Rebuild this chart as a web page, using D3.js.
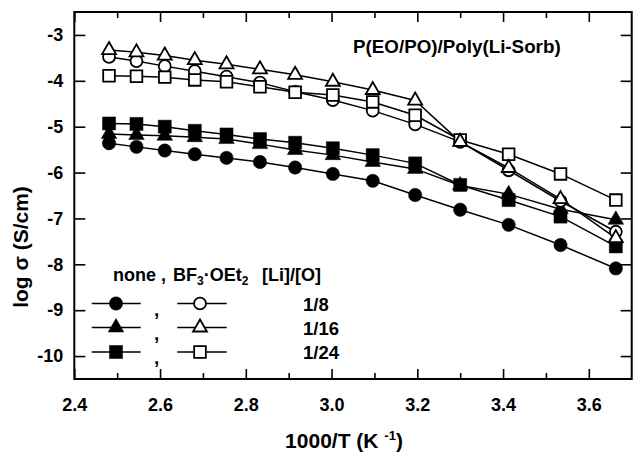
<!DOCTYPE html>
<html>
<head>
<meta charset="utf-8">
<script src="https://cdn.jsdelivr.net/npm/d3@7"></script>
<style>
  body { margin: 0; background: #fff; }
  text { font-family: "Liberation Sans", Arial, sans-serif; font-weight: bold; fill: #000; }
</style>
</head>
<body>
<div id="chart"></div>
<script>
// 1000/T values (K^-1)
var invT = [2.481, 2.545, 2.611, 2.681, 2.755, 2.833, 2.915, 3.003, 3.096, 3.195, 3.300, 3.413, 3.534, 3.663];

// log sigma, no additive
var none_8  = [-5.36, -5.44, -5.52, -5.60, -5.68, -5.77, -5.89, -6.03, -6.18, -6.49, -6.81, -7.14, -7.58, -8.09];
var none_16 = [-5.16, -5.18, -5.20, -5.23, -5.27, -5.38, -5.51, -5.62, -5.77, -5.92, -6.28, -6.47, -6.80, -7.03];
var none_24 = [-4.93, -4.94, -5.00, -5.09, -5.17, -5.27, -5.35, -5.47, -5.62, -5.80, -6.27, -6.60, -6.96, -7.61];
// log sigma, with BF3.OEt2
var bf_8  = [-3.48, -3.57, -3.68, -3.79, -3.91, -4.04, -4.24, -4.42, -4.65, -4.95, -5.33, -5.95, -6.62, -7.29];
var bf_16 = [-3.33, -3.38, -3.45, -3.55, -3.64, -3.75, -3.87, -4.02, -4.20, -4.43, -5.33, -5.90, -6.58, -7.43];
var bf_24 = [-3.89, -3.90, -3.92, -3.98, -4.02, -4.13, -4.25, -4.31, -4.46, -4.75, -5.29, -5.60, -6.03, -6.60];

var ratioLabels = ["1/8", "1/16", "1/24"];
var xMajor = [2.4, 2.6, 2.8, 3.0, 3.2, 3.4, 3.6];
var xMinor = [2.5, 2.7, 2.9, 3.1, 3.3, 3.5];
var yTicks = [-3, -4, -5, -6, -7, -8, -9, -10];

var W = 633, H = 455;
var pL = 74.3, pR = 631.7, pT = 12, pB = 379;

var svg = d3.select("#chart").append("svg")
  .attr("width", W)
  .attr("height", H);

var x = d3.scaleLinear().domain([2.4, 3.7]).range([pL, pR]);
var y = d3.scaleLinear().domain([-10.5, -2.5]).range([pB, pT]);

var shapes = [d3.symbolCircle, d3.symbolTriangle, d3.symbolSquare];
var sizes = [140, 105, 170];

// draw order: filled ones first, open on top (circle, square, triangle)
var series = [
  { vals: none_8,  shape: 0, open: false },
  { vals: none_16, shape: 1, open: false },
  { vals: none_24, shape: 2, open: false },
  { vals: bf_8,    shape: 0, open: true },
  { vals: bf_24,   shape: 2, open: true },
  { vals: bf_16,   shape: 1, open: true }
];

// axes (ticks point inward)
svg.append("g")
  .attr("transform", "translate(0," + pB + ")")
  .call(d3.axisBottom(x).tickValues(xMajor).tickSize(-10).tickPadding(19).tickFormat(d3.format(".1f")))
  .call(function(g) { g.select(".domain").remove(); })
  .selectAll("text").style("font-size", "18px").attr("font-family", null);
svg.append("g")
  .attr("transform", "translate(0," + pB + ")")
  .call(d3.axisBottom(x).tickValues(xMinor).tickSize(-6).tickFormat(""))
  .select(".domain").remove();
svg.append("g")
  .attr("transform", "translate(0," + pT + ")")
  .call(d3.axisTop(x).tickValues(xMajor).tickSize(-10).tickFormat(""))
  .select(".domain").remove();
svg.append("g")
  .attr("transform", "translate(0," + pT + ")")
  .call(d3.axisTop(x).tickValues(xMinor).tickSize(-6).tickFormat(""))
  .select(".domain").remove();
svg.append("g")
  .attr("transform", "translate(" + pL + ",0)")
  .call(d3.axisLeft(y).tickValues(yTicks).tickSize(-11).tickPadding(11).tickFormat(function(d) { return String(d); }))
  .call(function(g) { g.select(".domain").remove(); })
  .selectAll("text").style("font-size", "18px").attr("font-family", null);
svg.append("g")
  .attr("transform", "translate(" + pR + ",0)")
  .call(d3.axisRight(y).tickValues(yTicks).tickSize(-11).tickFormat(""))
  .select(".domain").remove();

svg.selectAll(".tick line").attr("stroke", "#000").attr("stroke-width", 1.6);

svg.append("rect")
  .attr("x", pL).attr("y", pT)
  .attr("width", pR - pL).attr("height", pB - pT)
  .attr("fill", "none").attr("stroke", "#000").attr("stroke-width", 2);

// lines
var line = d3.line()
  .x(function(d, i) { return x(invT[i]); })
  .y(function(d) { return y(d); });

series.forEach(function(s) {
  svg.append("path")
    .datum(s.vals)
    .attr("d", line)
    .attr("fill", "none")
    .attr("stroke", "#000")
    .attr("stroke-width", 1.5);
});

// markers
series.forEach(function(s) {
  svg.append("g").selectAll("path")
    .data(s.vals)
    .enter().append("path")
    .attr("transform", function(d, i) { return "translate(" + x(invT[i]) + "," + y(d) + ")"; })
    .attr("d", d3.symbol().type(shapes[s.shape]).size(s.open ? sizes[s.shape] * 0.8 : sizes[s.shape]))
    .attr("fill", s.open ? "#fff" : "#000")
    .attr("stroke", "#000")
    .attr("stroke-width", s.open ? 1.8 : 0.5);
});

// title inside plot
svg.append("text")
  .attr("x", 353).attr("y", 53)
  .style("font-size", "18.8px")
  .text("P(EO/PO)/Poly(Li-Sorb)");

// legend
svg.append("text")
  .attr("x", 113).attr("y", 281)
  .style("font-size", "18px")
  .text("none ,");
var bfText = svg.append("text")
  .attr("x", 173).attr("y", 281)
  .style("font-size", "18px");
bfText.append("tspan").text("BF");
bfText.append("tspan").attr("dy", 4).style("font-size", "12px").text("3");
bfText.append("tspan").attr("dy", -4).text("\u00b7OEt");
bfText.append("tspan").attr("dy", 4).style("font-size", "12px").text("2");
svg.append("text")
  .attr("x", 262).attr("y", 281)
  .style("font-size", "18px")
  .text("[Li]/[O]");

var rowY = [303.5, 327.5, 352];
ratioLabels.forEach(function(lab, i) {
  var ry = rowY[i];
  [[91.7, 140.7, 116, false], [177.3, 226.7, 200, true]].forEach(function(p) {
    svg.append("line")
      .attr("x1", p[0]).attr("x2", p[1])
      .attr("y1", ry).attr("y2", ry)
      .attr("stroke", "#000").attr("stroke-width", 1.5);
    svg.append("path")
      .attr("transform", "translate(" + p[2] + "," + ry + ")")
      .attr("d", d3.symbol().type(shapes[i]).size(p[3] ? sizes[i] * 0.8 : sizes[i]))
      .attr("fill", p[3] ? "#fff" : "#000")
      .attr("stroke", "#000")
      .attr("stroke-width", p[3] ? 1.8 : 0.5);
  });
  svg.append("text")
    .attr("x", 154).attr("y", ry + 12)
    .style("font-size", "19px")
    .text(",");
  svg.append("text")
    .attr("x", 303).attr("y", ry + 7)
    .style("font-size", "18.5px")
    .text(lab);
});

// axis titles
var xt = svg.append("text")
  .attr("x", 344).attr("y", 448)
  .attr("text-anchor", "middle")
  .style("font-size", "21px");
xt.append("tspan").text("1000/T (K ");
xt.append("tspan").attr("dy", -8).style("font-size", "13px").text("-1");
xt.append("tspan").attr("dy", 8).text(")");

svg.append("text")
  .attr("transform", "translate(28,247) rotate(-90)")
  .attr("text-anchor", "middle")
  .style("font-size", "21px")
  .text("log \u03c3 (S/cm)");
</script>
</body>
</html>
